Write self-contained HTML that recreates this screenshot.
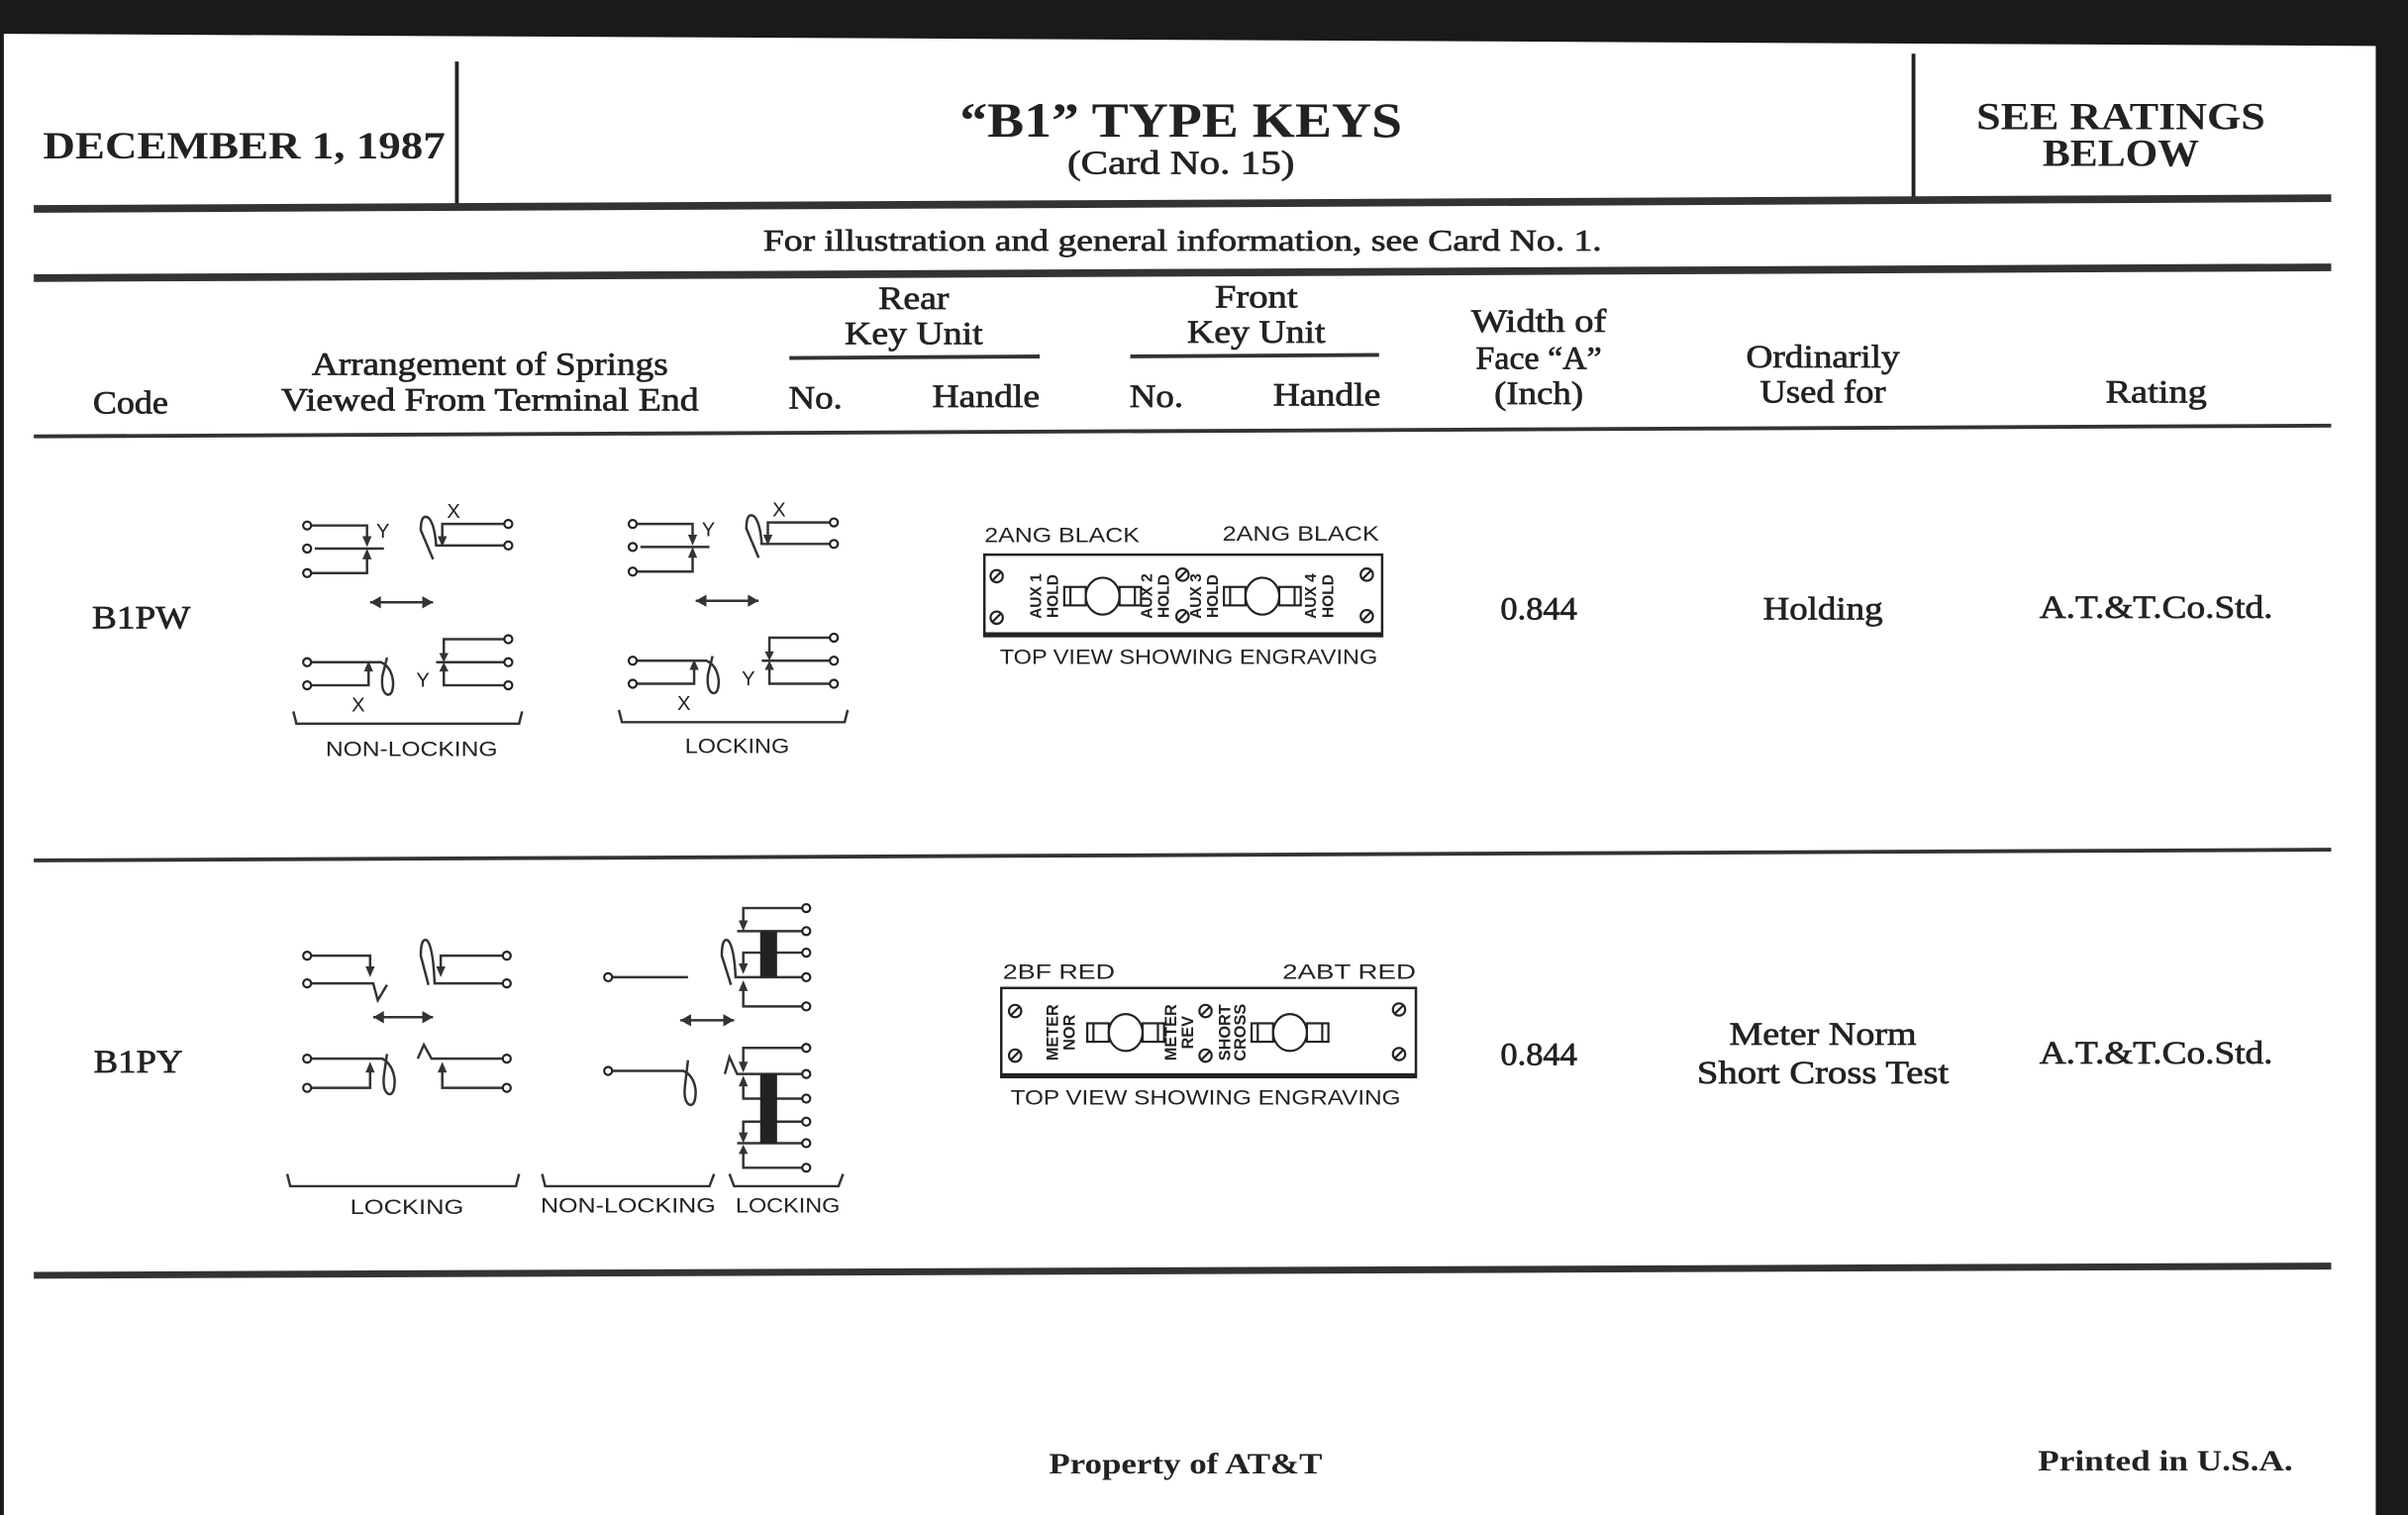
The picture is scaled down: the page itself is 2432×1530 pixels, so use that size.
<!DOCTYPE html>
<html><head><meta charset="utf-8"><style>
html,body{margin:0;padding:0;background:#fff;}
svg{display:block;}
.s{font-family:"Liberation Serif",serif;font-weight:bold;fill:#222;}
.r{font-family:"Liberation Serif",serif;fill:#222;stroke:#222;stroke-width:0.45;}
.g{font-family:"Liberation Sans",sans-serif;fill:#222;}
</style></head><body>
<svg width="2432" height="1530" viewBox="0 0 1568 986" preserveAspectRatio="none" xmlns="http://www.w3.org/2000/svg">
<defs>
<g id="t"><circle r="2.6" fill="#fff" stroke="#222" stroke-width="1.4"/></g>
<g id="pw">
 <g fill="none" stroke="#333" stroke-width="1.6">
  <path d="M202 342 H239 V350"/><path d="M205 357 H250"/><path d="M202 373 H239 V363"/>
  <path d="M282 364 L274 345 Q274 334 279 337 Q283 341 284 355 H331"/><path d="M331 341 H288 V350"/>
  <path d="M202 431 H248 Q255 434 256 444 Q256 453 252 452 Q248 450 249 440 L252 428"/><path d="M202 446 H240 V436"/>
  <path d="M331 416 H289 V426"/><path d="M284 431 H331"/><path d="M331 446 H289 V436"/>
  <path d="M241 392 H282"/>
  <path d="M191 463 L193 471 H338 L340 463"/>
 </g>
 <g fill="#333">
  <path d="M236 349 L242 349 L239 356Z"/><path d="M236 364 L242 364 L239 357Z"/>
  <path d="M285 349 L291 349 L288 356Z"/>
  <path d="M237 437 L243 437 L240 430Z"/><path d="M286 425 L292 425 L289 431Z"/><path d="M286 437 L292 437 L289 431Z"/>
  <path d="M241 392 L248 388 L248 396Z"/><path d="M282 392 L275 388 L275 396Z"/>
 </g>
 <use href="#t" x="200" y="342"/><use href="#t" x="200" y="357"/><use href="#t" x="200" y="373"/>
 <use href="#t" x="331" y="341"/><use href="#t" x="331" y="355"/>
 <use href="#t" x="200" y="431"/><use href="#t" x="200" y="446"/>
 <use href="#t" x="331" y="416"/><use href="#t" x="331" y="431"/><use href="#t" x="331" y="446"/>
 <text class="g" x="245" y="350" font-size="13">Y</text>
 <text class="g" x="291" y="337" font-size="13">X</text>
 <text class="g" x="229" y="463" font-size="13">X</text>
 <text class="g" x="271" y="447" font-size="13">Y</text>
</g>
<g id="handle" fill="#fff" stroke="#222" stroke-width="1.4">
 <rect x="-25" y="-6" width="14" height="12"/><rect x="11" y="-6" width="14" height="12"/>
 <line x1="-21" y1="-6" x2="-21" y2="6"/><line x1="21" y1="-6" x2="21" y2="6"/>
 <ellipse rx="11" ry="12"/>
</g>
<g id="scr"><circle r="4" fill="#fff" stroke="#222" stroke-width="1.4"/><line x1="-2.8" y1="2.8" x2="2.8" y2="-2.8" stroke="#222" stroke-width="1.4"/></g>
</defs>

<polygon points="0,0 1568,0 1568,30 0,22" fill="#1a1a1a"/>
<rect x="1547" y="0" width="21" height="986" fill="#1a1a1a"/>
<rect x="0" y="0" width="2.5" height="986" fill="#1a1a1a"/>

<line x1="297.5" y1="40" x2="297.5" y2="133" stroke="#222" stroke-width="2.5"/>
<line x1="1246" y1="35" x2="1246" y2="128" stroke="#222" stroke-width="2.5"/>
<line x1="22" y1="136" x2="1518" y2="129" stroke="#333" stroke-width="5"/>
<line x1="22" y1="181" x2="1518" y2="174" stroke="#333" stroke-width="5"/>
<line x1="514" y1="233" x2="677" y2="232" stroke="#333" stroke-width="2.5"/>
<line x1="736" y1="232" x2="898" y2="231" stroke="#333" stroke-width="2.5"/>
<line x1="22" y1="284" x2="1518" y2="277" stroke="#333" stroke-width="2.5"/>
<line x1="22" y1="560" x2="1518" y2="553" stroke="#333" stroke-width="2.5"/>
<line x1="22" y1="830" x2="1518" y2="824" stroke="#333" stroke-width="4.5"/>

<text class="s" x="28" y="103" font-size="25" textLength="262" lengthAdjust="spacingAndGlyphs">DECEMBER 1, 1987</text>
<text class="s" x="769" y="89" font-size="32" text-anchor="middle" textLength="288" lengthAdjust="spacingAndGlyphs">“B1” TYPE KEYS</text>
<text class="r" x="769" y="113" font-size="22" text-anchor="middle" textLength="148" lengthAdjust="spacingAndGlyphs">(Card No. 15)</text>
<text class="s" x="1381" y="84" font-size="25" text-anchor="middle" textLength="188" lengthAdjust="spacingAndGlyphs">SEE RATINGS</text>
<text class="s" x="1381" y="108" font-size="25" text-anchor="middle" textLength="102" lengthAdjust="spacingAndGlyphs">BELOW</text>
<text class="r" x="770" y="163" font-size="20" text-anchor="middle" textLength="546" lengthAdjust="spacingAndGlyphs">For illustration and general information, see Card No. 1.</text>

<g class="r" font-size="21" text-anchor="middle">
<text x="85" y="269" textLength="49" lengthAdjust="spacingAndGlyphs">Code</text>
<text x="319" y="244" textLength="232" lengthAdjust="spacingAndGlyphs">Arrangement of Springs</text>
<text x="319" y="267" textLength="272" lengthAdjust="spacingAndGlyphs">Viewed From Terminal End</text>
<text x="595" y="201" textLength="46" lengthAdjust="spacingAndGlyphs">Rear</text>
<text x="595" y="224" textLength="90" lengthAdjust="spacingAndGlyphs">Key Unit</text>
<text x="531" y="266" textLength="35" lengthAdjust="spacingAndGlyphs">No.</text>
<text x="642" y="265" textLength="70" lengthAdjust="spacingAndGlyphs">Handle</text>
<text x="818" y="200" textLength="54" lengthAdjust="spacingAndGlyphs">Front</text>
<text x="818" y="223" textLength="90" lengthAdjust="spacingAndGlyphs">Key Unit</text>
<text x="753" y="265" textLength="35" lengthAdjust="spacingAndGlyphs">No.</text>
<text x="864" y="264" textLength="70" lengthAdjust="spacingAndGlyphs">Handle</text>
<text x="1002" y="216" textLength="88" lengthAdjust="spacingAndGlyphs">Width of</text>
<text x="1002" y="240" textLength="82" lengthAdjust="spacingAndGlyphs">Face “A”</text>
<text x="1002" y="263" textLength="58" lengthAdjust="spacingAndGlyphs">(Inch)</text>
<text x="1187" y="239" textLength="100" lengthAdjust="spacingAndGlyphs">Ordinarily</text>
<text x="1187" y="262" textLength="82" lengthAdjust="spacingAndGlyphs">Used for</text>
<text x="1404" y="262" textLength="66" lengthAdjust="spacingAndGlyphs">Rating</text>
</g>

<g class="r" font-size="21" text-anchor="middle">
<text x="92" y="409" textLength="64" lengthAdjust="spacingAndGlyphs">B1PW</text>
<text x="1002" y="403" textLength="50" lengthAdjust="spacingAndGlyphs">0.844</text>
<text x="1187" y="403" textLength="78" lengthAdjust="spacingAndGlyphs">Holding</text>
<text x="1404" y="402" textLength="152" lengthAdjust="spacingAndGlyphs">A.T.&amp;T.Co.Std.</text>
<text x="90" y="698" textLength="58" lengthAdjust="spacingAndGlyphs">B1PY</text>
<text x="1002" y="693" textLength="50" lengthAdjust="spacingAndGlyphs">0.844</text>
<text x="1187" y="680" textLength="122" lengthAdjust="spacingAndGlyphs">Meter Norm</text>
<text x="1187" y="705" textLength="164" lengthAdjust="spacingAndGlyphs">Short Cross Test</text>
<text x="1404" y="692" textLength="152" lengthAdjust="spacingAndGlyphs">A.T.&amp;T.Co.Std.</text>
</g>

<use href="#pw"/>
<use href="#pw" x="212" y="-1"/>
<text class="g" x="268" y="492" font-size="13.5" text-anchor="middle" textLength="112" lengthAdjust="spacingAndGlyphs">NON-LOCKING</text>
<text class="g" x="480" y="490" font-size="13.5" text-anchor="middle" textLength="68" lengthAdjust="spacingAndGlyphs">LOCKING</text>

<text class="g" x="641" y="353" font-size="14" textLength="101" lengthAdjust="spacingAndGlyphs">2ANG BLACK</text>
<text class="g" x="796" y="352" font-size="14" textLength="102" lengthAdjust="spacingAndGlyphs">2ANG BLACK</text>
<rect x="641" y="361" width="259" height="53" fill="none" stroke="#222" stroke-width="1.6"/>
<line x1="641" y1="413" x2="900" y2="413" stroke="#222" stroke-width="3"/>
<use href="#scr" x="649" y="375"/><use href="#scr" x="649" y="402"/>
<use href="#scr" x="890" y="374"/><use href="#scr" x="890" y="401"/>
<use href="#scr" x="770" y="374"/><use href="#scr" x="770" y="401"/>
<use href="#handle" x="718" y="388"/><use href="#handle" x="822" y="388"/>
<g class="g" font-size="10" font-weight="bold" text-anchor="middle">
<text transform="translate(678,388) rotate(-90)">AUX 1</text>
<text transform="translate(689,388) rotate(-90)">HOLD</text>
<text transform="translate(750,388) rotate(-90)">AUX 2</text>
<text transform="translate(761,388) rotate(-90)">HOLD</text>
<text transform="translate(782,388) rotate(-90)">AUX 3</text>
<text transform="translate(793,388) rotate(-90)">HOLD</text>
<text transform="translate(857,388) rotate(-90)">AUX 4</text>
<text transform="translate(868,388) rotate(-90)">HOLD</text>
</g>
<text class="g" x="774" y="432" font-size="14" text-anchor="middle" textLength="246" lengthAdjust="spacingAndGlyphs">TOP VIEW SHOWING ENGRAVING</text>

<g fill="none" stroke="#333" stroke-width="1.6">
 <path d="M202 622 H241 V630"/><path d="M202 640 H243 L246 651 L252 641"/>
 <path d="M279 641 L274 622 Q274 610 278 612 Q282 616 283 640 H331"/><path d="M331 622 H287 V630"/>
 <path d="M202 689 H249 Q256 693 257 703 Q257 713 253 712 Q249 710 250 700 L252 686"/><path d="M202 708 H241 V697"/>
 <path d="M272 689 L276 680 L281 689 H331"/><path d="M331 708 H288 V697"/>
 <path d="M243 662 H282"/>
 <path d="M187 764 L189 772 H336 L338 764"/>
</g>
<g fill="#333">
 <path d="M238 629 L244 629 L241 636Z"/><path d="M284 629 L290 629 L287 636Z"/>
 <path d="M238 698 L244 698 L241 691Z"/><path d="M285 698 L291 698 L288 691Z"/>
 <path d="M243 662 L250 658 L250 666Z"/><path d="M282 662 L275 658 L275 666Z"/>
</g>
<use href="#t" x="200" y="622"/><use href="#t" x="200" y="640"/><use href="#t" x="200" y="689"/><use href="#t" x="200" y="708"/>
<use href="#t" x="330" y="622"/><use href="#t" x="330" y="640"/><use href="#t" x="330" y="689"/><use href="#t" x="330" y="708"/>
<text class="g" x="265" y="790" font-size="13.5" text-anchor="middle" textLength="74" lengthAdjust="spacingAndGlyphs">LOCKING</text>

<g fill="none" stroke="#333" stroke-width="1.6">
 <path d="M398 636 H448"/>
 <path d="M398 697 H445 Q452 700 453 710 Q453 720 449 719 Q445 717 446 707 L448 690"/>
 <path d="M525 591 H484 V600"/><path d="M480 606 H525"/><path d="M525 620 H484 V628"/>
 <path d="M476 641 L470 622 Q470 610 474 612 Q478 616 479 636 H525"/><path d="M525 655 H484 V644"/>
 <path d="M525 682 H484 V692"/><path d="M472 699 L475 688 L480 699 H525"/><path d="M525 715 H484 V706"/>
 <path d="M525 730 H484 V738"/><path d="M480 744 H525"/><path d="M525 760 H484 V750"/>
 <path d="M443 664 H478"/>
 <path d="M353 764 L355 772 H462 L465 764"/>
 <path d="M475 764 L478 772 H546 L549 764"/>
</g>
<rect x="495" y="606" width="11" height="30" fill="#222"/>
<rect x="495" y="699" width="11" height="45" fill="#222"/>
<g fill="#333">
 <path d="M481 599 L487 599 L484 606Z"/><path d="M481 627 L487 627 L484 634Z"/><path d="M481 645 L487 645 L484 638Z"/>
 <path d="M481 691 L487 691 L484 698Z"/><path d="M481 707 L487 707 L484 700Z"/>
 <path d="M481 737 L487 737 L484 744Z"/><path d="M481 751 L487 751 L484 745Z"/>
 <path d="M443 664 L450 660 L450 668Z"/><path d="M478 664 L471 660 L471 668Z"/>
</g>
<use href="#t" x="396" y="636"/><use href="#t" x="396" y="697"/>
<use href="#t" x="525" y="591"/><use href="#t" x="525" y="606"/><use href="#t" x="525" y="620"/><use href="#t" x="525" y="636"/><use href="#t" x="525" y="655"/>
<use href="#t" x="525" y="682"/><use href="#t" x="525" y="699"/><use href="#t" x="525" y="715"/><use href="#t" x="525" y="730"/><use href="#t" x="525" y="744"/><use href="#t" x="525" y="760"/>
<text class="g" x="409" y="789" font-size="13.5" text-anchor="middle" textLength="114" lengthAdjust="spacingAndGlyphs">NON-LOCKING</text>
<text class="g" x="513" y="789" font-size="13.5" text-anchor="middle" textLength="68" lengthAdjust="spacingAndGlyphs">LOCKING</text>

<text class="g" x="653" y="637" font-size="14" textLength="73" lengthAdjust="spacingAndGlyphs">2BF RED</text>
<text class="g" x="835" y="637" font-size="14" textLength="87" lengthAdjust="spacingAndGlyphs">2ABT RED</text>
<rect x="652" y="643" width="270" height="58" fill="none" stroke="#222" stroke-width="1.6"/>
<line x1="652" y1="700" x2="922" y2="700" stroke="#222" stroke-width="3"/>
<use href="#scr" x="661" y="658"/><use href="#scr" x="661" y="687"/>
<use href="#scr" x="911" y="657"/><use href="#scr" x="911" y="686"/>
<use href="#scr" x="785" y="658"/><use href="#scr" x="785" y="687"/>
<use href="#handle" x="733" y="672"/><use href="#handle" x="840" y="672"/>
<g class="g" font-size="10.5" font-weight="bold" text-anchor="middle">
<text transform="translate(689,672) rotate(-90)">METER</text>
<text transform="translate(700,672) rotate(-90)">NOR</text>
<text transform="translate(766,672) rotate(-90)">METER</text>
<text transform="translate(777,672) rotate(-90)">REV</text>
<text transform="translate(801,672) rotate(-90)">SHORT</text>
<text transform="translate(811,672) rotate(-90)">CROSS</text>
</g>
<text class="g" x="785" y="719" font-size="14" text-anchor="middle" textLength="254" lengthAdjust="spacingAndGlyphs">TOP VIEW SHOWING ENGRAVING</text>

<text class="s" x="772" y="959" font-size="19" text-anchor="middle" textLength="178" lengthAdjust="spacingAndGlyphs">Property of AT&amp;T</text>
<text class="s" x="1410" y="957" font-size="19" text-anchor="middle" textLength="166" lengthAdjust="spacingAndGlyphs">Printed in U.S.A.</text>
</svg>
</body></html>
